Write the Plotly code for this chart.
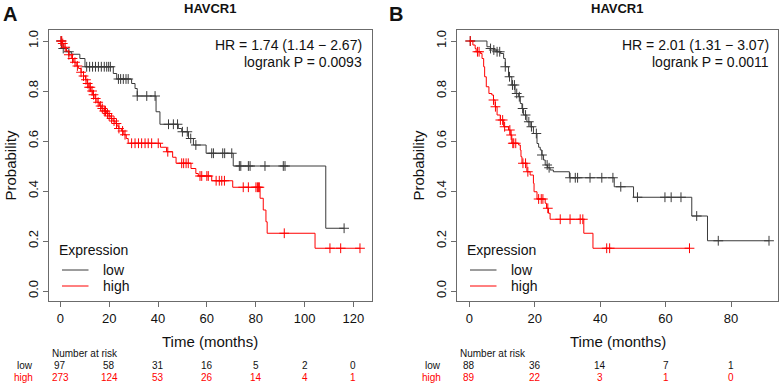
import plotly.graph_objects as go

W, H = 782, 384

# ---------------- Data ----------------
# Panel A: Kaplan-Meier steps (time in months, survival probability)
a_low_t = [0, 0.5, 2.5, 4.5, 8, 10.1, 21.7, 23.1, 29.2, 30.6, 31.5, 39.2, 40.8, 48.3, 49.7,
           52.5, 54.5, 59.7, 70.8, 108.7]
a_low_s = [1.0, 0.97, 0.957, 0.947, 0.93, 0.897, 0.87, 0.848, 0.83, 0.81, 0.78, 0.717, 0.667,
           0.65, 0.637, 0.61, 0.584, 0.551, 0.50, 0.251]
a_low_cens = [0.3, 1.2, 3.5, 10.8, 12, 13.2, 14.4, 15.6, 16.8, 18, 19, 19.8, 20.5, 23.8, 24.7,
              25.8, 26.9, 27.8, 31.5, 35.4, 38.8, 44.3, 46.3, 48, 50, 52, 53.4, 55.5, 62, 62.7,
              66.5, 67.3, 70.2, 73.3, 73.9, 77, 77.7, 83.8, 91.3, 92, 116.2]

a_high_t = [0, 0.8, 1.5, 2.5, 3.5, 4.5, 5.5, 6.5, 7.5, 8.5, 9.5, 10.3, 11, 11.7, 12.5, 13.3,
            14.2, 15, 16, 17, 18, 19, 20, 20.8, 21.6, 22.4, 23.2, 24, 25, 26, 27, 27.8, 41,
            43.5, 46, 47.4, 53.5, 55.5, 56.5, 62, 70.6, 81.8, 83.1, 84.2, 84.7, 104.3]
a_high_s = [1.0, 0.99, 0.975, 0.96, 0.945, 0.93, 0.915, 0.90, 0.89, 0.875, 0.86, 0.845, 0.83,
            0.815, 0.80, 0.785, 0.77, 0.755, 0.74, 0.73, 0.72, 0.71, 0.70, 0.69, 0.68, 0.67,
            0.66, 0.65, 0.64, 0.625, 0.61, 0.591, 0.575, 0.557, 0.535, 0.511, 0.49, 0.47,
            0.46, 0.441, 0.415, 0.371, 0.324, 0.277, 0.231, 0.171]
a_high_cens = [0.3, 0.6, 1, 2, 3.5, 5, 6, 7, 8.5, 9.5, 10.5, 11.2, 11.8, 12.3, 13, 13.6, 14.5,
               15.5, 16.5, 17.2, 18, 18.5, 19.3, 20, 21, 22, 23, 24, 25.5, 26.5, 29.2, 30.6,
               32, 33.3, 34.7, 36, 37.4, 40.1, 44, 49.7, 50.5, 51.5, 52.4, 57.2, 57.9, 60,
               60.6, 63.8, 65.1, 66.1, 67.2, 74.9, 77, 80.1, 80.7, 81.1, 81.5, 91.7, 110.4,
               114.8, 122.7]

# Panel B
b_low_t = [0, 5.4, 6.5, 7.5, 8.4, 9.5, 10.5, 11, 12, 13, 14, 15.1, 15.6, 16.1, 16.6, 17.6,
           18.6, 19.6, 20.7, 21.2, 21.7, 22.2, 22.7, 23.2, 23.9, 24.7, 25.7, 30.6, 44.3, 50.2,
           68, 72.8]
b_low_s = [1.0, 0.977, 0.97, 0.964, 0.957, 0.95, 0.93, 0.897, 0.857, 0.824, 0.79, 0.777,
           0.75, 0.73, 0.704, 0.677, 0.657, 0.63, 0.59, 0.575, 0.564, 0.544, 0.524, 0.504,
           0.493, 0.484, 0.477, 0.453, 0.417, 0.375, 0.3, 0.201]
b_low_cens = [0.3, 6.5, 7.5, 8.5, 9.3, 11, 12.3, 13.2, 13.8, 14.5, 15.3, 16.3, 17.2, 18.2, 19,
              20.5, 22.2, 23.8, 24.4, 30.8, 32.4, 33.1, 36.9, 40.5, 43.9, 46.3, 51.4, 59.8,
              61.7, 64.7, 69.5, 76.1, 91.6]

b_high_t = [0, 1.1, 1.8, 2.1, 3.4, 3.9, 4.4, 4.7, 5.2, 6.0, 6.9, 7.4, 7.9, 8.5, 9.5, 10.5, 12,
            12.5, 13, 15.1, 15.6, 15.8, 16.1, 17.6, 18.6, 19.6, 19.8, 20.7, 23.2, 23.6, 24.2,
            24.7, 35.0, 37.8]
b_high_s = [1.0, 0.984, 0.97, 0.957, 0.95, 0.93, 0.897, 0.857, 0.817, 0.79, 0.784, 0.764,
            0.737, 0.704, 0.684, 0.657, 0.644, 0.624, 0.591, 0.584, 0.564, 0.537, 0.511, 0.477,
            0.464, 0.431, 0.397, 0.368, 0.351, 0.331, 0.311, 0.287, 0.231, 0.171]
b_high_cens = [0.3, 2.5, 3.0, 7.4, 8.0, 9.5, 10.2, 10.8, 12.4, 12.8, 13.3, 13.6, 14.2, 16.4,
               17.2, 17.9, 21.2, 22.0, 22.5, 24.0, 27.8, 30.8, 33.9, 34.7, 42.0, 42.9, 67.3]

# Number at risk
a_risk_times = [0, 20, 40, 60, 80, 100, 120]
a_risk_low = [97, 58, 31, 16, 5, 2, 0]
a_risk_high = [273, 124, 53, 26, 14, 4, 1]
b_risk_times = [0, 20, 40, 60, 80]
b_risk_low = [88, 36, 14, 7, 1]
b_risk_high = [89, 22, 3, 1, 0]

a_ticks = [0, 20, 40, 60, 80, 100, 120]
b_ticks = [0, 20, 40, 60, 80]
y_ticks = [0.0, 0.2, 0.4, 0.6, 0.8, 1.0]

title_text = "HAVCR1"
a_stats = ["HR = 1.74 (1.14 \u2212 2.67)", "logrank P = 0.0093"]
b_stats = ["HR = 2.01 (1.31 \u2212 3.07)", "logrank P = 0.0011"]
groups = ["low", "high"]

LOW_C = "#3a3a3a"
HIGH_C = "#ff0000"
AX_C = "#6b6b6b"
FONT = "Liberation Sans, Arial, Helvetica, sans-serif"


def px(x):
    return x / W


def py(y):
    return 1 - y / H


def step_value(ts, ss, t):
    v = ss[0]
    for ti, si in zip(ts, ss):
        if ti <= t:
            v = si
    return v


fig = go.Figure()


def add_km(ts, ss, cens, color, xa, ya):
    end = max(max(cens), ts[-1])
    xt = list(ts) + [end]
    ys = list(ss) + [ss[-1]]
    fig.add_trace(go.Scatter(x=xt, y=ys, mode="lines", line=dict(color=color, width=1, shape="hv"),
                             xaxis=xa, yaxis=ya, showlegend=False, hoverinfo="skip"))
    cy = [step_value(ts, ss, c) for c in cens]
    fig.add_trace(go.Scatter(x=cens, y=cy, mode="markers",
                             marker=dict(symbol="cross-thin-open", size=7, color=color,
                                         line=dict(color=color, width=1)),
                             xaxis=xa, yaxis=ya, showlegend=False, hoverinfo="skip"))


add_km(a_low_t, a_low_s, a_low_cens, LOW_C, "x", "y")
add_km(a_high_t, a_high_s, a_high_cens, HIGH_C, "x", "y")
add_km(b_low_t, b_low_s, b_low_cens, LOW_C, "x2", "y2")
add_km(b_high_t, b_high_s, b_high_cens, HIGH_C, "x2", "y2")

# geometry (pixels)
box_top, box_bot = 30, 301
A_l, A_r = 49, 371.7
B_l, B_r = 457.3, 778

ax_common = dict(showline=True, mirror=True, linecolor=AX_C, linewidth=1, ticks="outside",
                 ticklen=5, tickcolor=AX_C, tickwidth=1, showgrid=False, zeroline=False,
                 tickfont=dict(size=13, color="#111", family=FONT))

yaxis_common = dict(ax_common, range=[-0.04, 1.044], tickvals=y_ticks,
                    ticktext=["%.1f" % v for v in y_ticks], tickangle=-90,
                    domain=[py(box_bot), py(box_top)])

fig.update_layout(
    width=W, height=H, margin=dict(l=0, r=0, t=0, b=0),
    paper_bgcolor="white", plot_bgcolor="white",
    font=dict(family=FONT, color="#111"),
    xaxis=dict(ax_common, domain=[px(A_l), px(A_r)], range=[-4.63, 127.5], tickvals=a_ticks,
               anchor="y"),
    yaxis=dict(yaxis_common, anchor="x"),
    xaxis2=dict(ax_common, domain=[px(B_l), px(B_r)], range=[-3.66, 94.35], tickvals=b_ticks,
                anchor="y2"),
    yaxis2=dict(yaxis_common, anchor="x2"),
)

ann = []
shapes = []


def text(x, y, s, size, xanchor="center", yanchor="middle", color="#111", bold=False,
         angle=0, xref="paper"):
    ann.append(dict(x=x, y=y, xref=xref, yref="paper", text=("<b>%s</b>" % s) if bold else s,
                    showarrow=False, xanchor=xanchor, yanchor=yanchor, textangle=angle,
                    font=dict(size=size, color=color, family=FONT)))


panels = [
    dict(letter="A", lx=10, l=A_l, r=A_r, stats=a_stats, probx=10, legx=57, xr="x",
         times=a_risk_times, low=a_risk_low, high=a_risk_high, rowlab=35),
    dict(letter="B", lx=396, l=B_l, r=B_r, stats=b_stats, probx=418, legx=465, xr="x2",
         times=b_risk_times, low=b_risk_low, high=b_risk_high, rowlab=443.3),
]

for p in panels:
    cx = (p["l"] + p["r"]) / 2
    text(px(p["lx"]), py(13.5), p["letter"], 20, bold=True)
    text(px(cx), py(8), title_text, 13, bold=True)
    text(px(p["r"] - 7.5), py(45), p["stats"][0], 14, xanchor="right")
    text(px(p["r"] - 7.5), py(61.7), p["stats"][1], 14, xanchor="right")
    text(px(p["probx"]), py((box_top + box_bot) / 2), "Probability", 15, angle=-90)
    text(px(cx), py(341), "Time (months)", 15)
    # legend
    text(px(p["legx"]), py(250), "Expression", 14, xanchor="left")
    for i, (g, c) in enumerate(zip(groups, [LOW_C, HIGH_C])):
        yy = 270 + 16 * i
        shapes.append(dict(type="line", xref="paper", yref="paper",
                           x0=px(p["legx"] + 5), x1=px(p["legx"] + 31.5), y0=py(yy), y1=py(yy),
                           line=dict(color=c, width=1)))
        text(px(p["legx"] + 44), py(yy), g, 14, xanchor="left", color="#111")
    # number at risk
    text(px(p["l"] + 0.5), py(353.7), "Number at risk", 10, xanchor="left")
    text(px(p["rowlab"]), py(365), "low", 10, xanchor="right")
    text(px(p["rowlab"]), py(377), "high", 10, xanchor="right", color=HIGH_C)
    for t, lo, hi in zip(p["times"], p["low"], p["high"]):
        text(t, py(365), str(lo), 10, xref=p["xr"])
        text(t, py(377), str(hi), 10, xref=p["xr"], color=HIGH_C)

fig.update_layout(annotations=ann, shapes=shapes)
fig.write_html("out.html", config={"displayModeBar": False},
               post_script="document.body.style.margin='0px';"
                           "document.body.style.padding='0px';"
                           "document.body.style.overflow='hidden';")
